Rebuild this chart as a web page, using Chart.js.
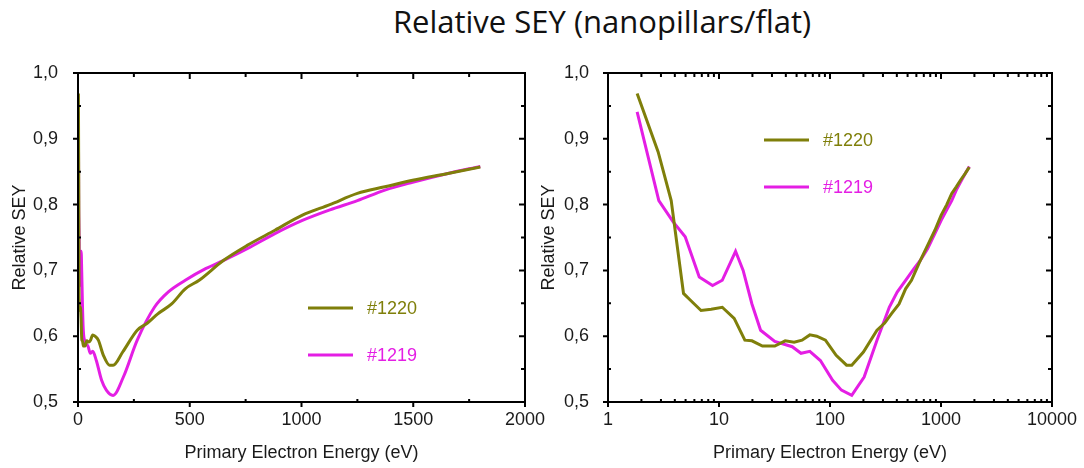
<!DOCTYPE html>
<html>
<head>
<meta charset="utf-8">
<script src="https://cdn.jsdelivr.net/npm/chart.js@4.4.1/dist/chart.umd.min.js"></script>
<style>
  body { margin: 0; background: #fff; width: 1084px; height: 468px; position: relative; overflow: hidden; }
  #title { position: absolute; left: 0; top: 1px; width: 1204px; text-align: center; font: 31px "Open Sans", sans-serif; line-height: 40px; color: #111; }
  canvas { position: absolute; top: 0; }
  #left { left: 0; }
  #right { left: 530px; }
</style>
</head>
<body>
<div id="title">Relative SEY (nanopillars/flat)</div>
<canvas id="left" width="560" height="468"></canvas>
<canvas id="right" width="554" height="468"></canvas>
<script>
// ========== DONNÉES ==========
const energy1220 = [1.83, 2.83, 3.71, 4.79, 5.5, 6.89, 8.5, 10.7, 13.7, 17.1, 19.8, 24.6, 31.8, 39.5, 47.5, 56, 65.8, 76, 91, 113.6, 141, 157, 200, 265, 311, 357, 419, 480, 542, 650, 757, 881, 1004, 1127, 1250, 1373, 1497, 1650, 1800];
const sey1220 = [0.969, 0.880, 0.806, 0.665, 0.655, 0.639, 0.641, 0.644, 0.627, 0.594, 0.593, 0.585, 0.585, 0.593, 0.591, 0.594, 0.602, 0.600, 0.594, 0.571, 0.556, 0.556, 0.576, 0.609, 0.620, 0.634, 0.649, 0.672, 0.685, 0.715, 0.738, 0.761, 0.784, 0.800, 0.817, 0.827, 0.837, 0.847, 0.857];
const energy1219 = [1.83, 2.87, 3.85, 4.96, 6.64, 8.75, 10.7, 14.1, 16.5, 19.8, 23.7, 31.8, 45.7, 54.8, 65.8, 81.9, 105.6, 126.8, 157, 203, 265, 342, 403, 480, 573, 650, 757, 881, 1004, 1127, 1250, 1373, 1497, 1650, 1800];
const sey1219 = [0.941, 0.806, 0.774, 0.751, 0.690, 0.677, 0.685, 0.729, 0.700, 0.649, 0.609, 0.592, 0.584, 0.574, 0.577, 0.563, 0.533, 0.518, 0.510, 0.538, 0.594, 0.644, 0.667, 0.685, 0.703, 0.715, 0.733, 0.756, 0.776, 0.792, 0.806, 0.822, 0.834, 0.847, 0.858];

const yTicks = [0.5, 0.6, 0.7, 0.8, 0.9, 1.0];
const yMinor = [0.55, 0.65, 0.75, 0.85, 0.95];
const linTicks = [0, 500, 1000, 1500, 2000];
const linMinor = [250, 750, 1250, 1750];
const logTicks = [1, 10, 100, 1000, 10000];
const logMinor = [];
[1, 10, 100, 1000].forEach((d) => { for (let m = 2; m <= 9; m++) logMinor.push(m * d); });

const OLIVE = "#7f7f0a";
const MAGENTA = "#e41ee4";
const TEXT = "#1a1a1a";
const FONT = '"Liberation Sans", Arial, sans-serif';

function toPoints(xs, ys) {
  return xs.map((x, i) => ({ x, y: ys[i] }));
}

// ========== PLUGINS ==========
// cadre fermé + graduations façon Origin
const framePlugin = {
  id: "frame",
  afterDatasetsDraw(chart, args, opts) {
    const { ctx, chartArea: a, scales } = chart;
    const x = scales.x, y = scales.y;
    ctx.save();
    ctx.strokeStyle = "#000";
    ctx.lineWidth = 2;
    ctx.strokeRect(a.left, a.top, a.right - a.left, a.bottom - a.top);
    ctx.beginPath();
    x.ticks.forEach((t) => {
      const px = x.getPixelForValue(t.value);
      ctx.moveTo(px, a.bottom); ctx.lineTo(px, a.bottom + 5);
      ctx.moveTo(px, a.top); ctx.lineTo(px, a.top + 6);
    });
    opts.xMinor.forEach((v) => {
      const px = x.getPixelForValue(v);
      ctx.moveTo(px, a.bottom); ctx.lineTo(px, a.bottom - 3);
      ctx.moveTo(px, a.top); ctx.lineTo(px, a.top + 4);
    });
    y.ticks.forEach((t) => {
      const py = y.getPixelForValue(t.value);
      ctx.moveTo(a.left, py); ctx.lineTo(a.left - 5, py);
      ctx.moveTo(a.right, py); ctx.lineTo(a.right - 6, py);
    });
    opts.yMinor.forEach((v) => {
      const py = y.getPixelForValue(v);
      ctx.moveTo(a.left, py); ctx.lineTo(a.left + 3, py);
      ctx.moveTo(a.right, py); ctx.lineTo(a.right - 4, py);
    });
    ctx.stroke();
    ctx.restore();
  },
};

// légende dans la zone du graphique
const legendPlugin = {
  id: "insetLegend",
  afterDatasetsDraw(chart, args, opts) {
    const { ctx, chartArea: a } = chart;
    ctx.save();
    chart.data.datasets.forEach((ds, i) => {
      const lx = a.left + opts.x;
      const ly = a.top + opts.y + i * opts.gap;
      ctx.strokeStyle = ds.borderColor;
      ctx.lineWidth = 3;
      ctx.beginPath();
      ctx.moveTo(lx, ly);
      ctx.lineTo(lx + 45, ly);
      ctx.stroke();
      ctx.fillStyle = ds.borderColor;
      ctx.font = "18px " + FONT;
      ctx.textBaseline = "middle";
      ctx.fillText(ds.label, lx + 59, ly + 1);
    });
    ctx.restore();
  },
};

// ========== GRAPHIQUES ==========
function datasets(smooth) {
  const common = { borderWidth: 3, pointRadius: 0, fill: false, cubicInterpolationMode: smooth ? "monotone" : "default", tension: 0 };
  return [
    { label: "#1220", data: toPoints(energy1220, sey1220), borderColor: OLIVE, ...common },
    { label: "#1219", data: toPoints(energy1219, sey1219), borderColor: MAGENTA, ...common },
  ];
}

function makeChart(canvasId, xType, xMin, xMax, xMajor, xMinorVals, areaLeft, areaRight, yTitlePad, yLabelPad, legendPos, smooth) {
  const canvas = document.getElementById(canvasId);
  return new Chart(canvas, {
    type: "line",
    data: { datasets: datasets(smooth) },
    options: {
      responsive: false,
      animation: false,
      layout: { padding: { top: 73, right: canvas.width - areaRight, left: 0, bottom: 0 } },
      plugins: {
        legend: { display: false },
        tooltip: { enabled: false },
        frame: { xMinor: xMinorVals, yMinor: yMinor },
        insetLegend: legendPos,
      },
      scales: {
        x: {
          type: xType,
          min: xMin,
          max: xMax,
          grid: { display: false },
          border: { display: false },
          afterBuildTicks: (s) => { s.ticks = xMajor.map((v) => ({ value: v })); },
          afterFit: (s) => { s.height = 468 - 402; },
          ticks: { color: TEXT, font: { family: FONT, size: 18 }, padding: -1, maxRotation: 0, autoSkip: false, callback: (v) => String(v) },
          title: { display: true, text: "Primary Electron Energy (eV)", color: TEXT, font: { family: FONT, size: 18 }, padding: { top: 0, bottom: 4 } },
        },
        y: {
          type: "linear",
          min: 0.5,
          max: 1.0,
          grid: { display: false },
          border: { display: false },
          afterBuildTicks: (s) => { s.ticks = yTicks.map((v) => ({ value: v })); },
          afterFit: (s) => { s.width = areaLeft; },
          ticks: { color: TEXT, font: { family: FONT, size: 18 }, padding: yLabelPad, callback: (v) => v.toFixed(1).replace(".", ",") },
          title: { display: true, text: "Relative SEY", color: TEXT, font: { family: FONT, size: 18 }, padding: { top: yTitlePad, bottom: 0 } },
        },
      },
    },
    plugins: [framePlugin, legendPlugin],
  });
}

document.addEventListener("DOMContentLoaded", () => {
  makeChart("left", "linear", 0, 2000, linTicks, linMinor, 78, 525, 9, 12, { x: 230, y: 235, gap: 47 }, true);
  makeChart("right", "logarithmic", 1, 10000, logTicks, logMinor, 78, 522, 8, 11, { x: 156, y: 67, gap: 47 }, false);
});
</script>
</body>
</html>
